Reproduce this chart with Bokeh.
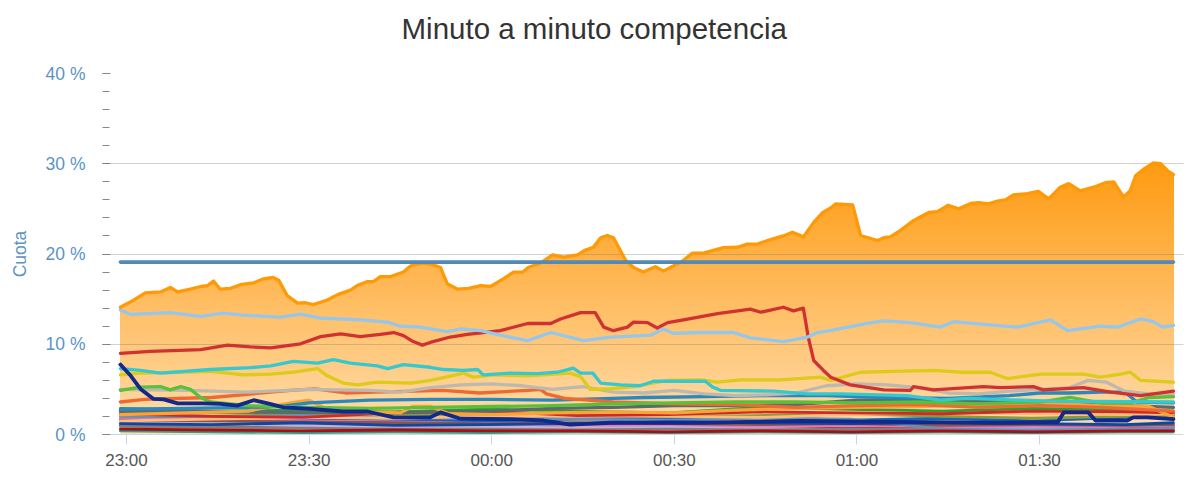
import numpy as np
from bokeh.plotting import figure
from bokeh.models import Range1d, FixedTicker, SingleIntervalTicker, Title
from bokeh.embed import file_html
from bokeh.resources import INLINE

# ---------------- data (minutes after 23:00, share in %) ----------------
title_text = "Minuto a minuto competencia"
tick_minutes = [0, 30, 60, 90, 120, 150]
tick_labels = ["23:00", "23:30", "00:00", "00:30", "01:00", "01:30"]
y_ticks = [0, 10, 20, 30, 40]
y_tick_labels = ["0 %", "10 %", "20 %", "30 %", "40 %"]

objetivo_t = [-1, 172]
objetivo_v = [19.1, 19.1]

orange_t = [-1, 0.7, 3.1, 5.6, 7.2, 8.4, 10.5, 12.2, 13.3, 14.3, 15.4, 17.1, 18.7, 20.9, 22.5, 24.1, 25.0, 26.4,
            28.1, 29.4, 30.7, 33.0, 34.7, 36.8, 37.9, 39.6, 40.6, 41.7, 43.4, 45.5, 46.7, 48.6, 50.4, 51.6, 52.7,
            54.4, 56.2, 58.2, 59.8, 61.9, 63.6, 65.1, 66.0, 68.0, 70.0, 71.8, 74.1, 75.4, 76.7, 77.9, 79.0, 80.0,
            82.0, 83.3, 84.9, 86.9, 88.2, 89.9, 91.5, 93.0, 94.8, 96.4, 98.1, 100.4, 102.0, 103.7, 105.8, 107.9,
            109.4, 111.2, 112.9, 114.4, 115.7, 116.5, 119.3, 120.6, 123.4, 124.4, 125.5, 127.1, 129.3, 130.4, 131.8,
            133.2, 135.0, 136.7, 138.7, 140.0, 141.6, 143.1, 144.4, 145.7, 148.0, 149.8, 151.5, 153.4, 154.8, 156.7,
            158.9, 160.8, 162.2, 163.8, 164.9, 165.8, 167.1, 168.7, 169.9, 171.0, 172.0]
orange_v = [14.1, 14.7, 15.7, 15.8, 16.3, 15.8, 16.1, 16.4, 16.5, 17.0, 16.1, 16.2, 16.6, 16.8, 17.25, 17.4, 17.1, 15.4,
            14.55, 14.6, 14.4, 14.9, 15.5, 16.0, 16.5, 16.95, 16.95, 17.5, 17.5, 18.0, 18.7, 19.0, 18.8, 18.5, 16.7,
            16.1, 16.2, 16.5, 16.4, 17.25, 18.0, 18.0, 18.5, 19.0, 19.9, 19.65, 19.9, 20.45, 20.75, 21.8, 22.05, 21.8,
            19.3, 18.5, 18.0, 18.6, 18.1, 18.7, 19.3, 20.1, 20.1, 20.4, 20.7, 20.75, 21.1, 21.1, 21.6, 22.0,
            22.4, 21.9, 23.5, 24.6, 25.1, 25.55, 25.45, 22.05, 21.5, 21.8, 21.9, 22.6, 23.7, 24.1, 24.6,
            24.7, 25.4, 25.0, 25.6, 25.7, 25.55, 25.85, 26.0, 26.55, 26.7, 26.95, 26.1, 27.4, 27.8, 27.0,
            27.4, 27.9, 28.0, 26.3, 27.0, 28.7, 29.4, 30.1, 30.0, 29.25, 28.8]

lblue_t = [-1, 0.7, 7.2, 12.2, 15.9, 18.7, 25.3, 28.6, 31.9, 38.4, 42.9, 45.0, 48.3, 52.7, 54.9, 58.2, 61.4, 65.9, 69.7,
           75.1, 79.5, 86.1, 88.2, 89.9, 94.3, 99.7, 102.5, 107.9, 111.9, 113.5, 116.2, 121.7, 124.4, 128.8, 133.7,
           135.9, 140.8, 146.4, 151.8, 154.6, 160.0, 162.8, 166.6, 168.7, 170.2, 172]
lblue_v = [13.8, 13.3, 13.5, 13.1, 13.45, 13.25, 13.0, 13.35, 12.9, 12.7, 12.45, 12.0, 11.9, 11.4, 11.7, 11.5, 11.0, 10.4,
           11.3, 10.4, 10.8, 11.0, 11.7, 11.2, 11.3, 11.3, 10.7, 10.3, 10.8, 11.3, 11.6, 12.3, 12.6, 12.4, 11.9,
           12.5, 12.2, 11.9, 12.7, 11.5, 12.0, 11.9, 12.8, 12.5, 11.9, 12.1]

red_t = [-1, 3.9, 12.2, 16.6, 20.4, 23.7, 28.6, 31.9, 35.2, 38.4, 41.7, 43.9, 45.5, 47.1, 48.6, 49.9, 53.2, 56.0, 58.6,
         61.4, 65.9, 69.7, 71.3, 74.6, 77.0, 78.4, 80.0, 82.3, 83.3, 85.6, 87.2, 88.9, 91.5, 97.1, 102.5, 104.2, 107.9,
         109.6, 111.2, 112.0, 112.9, 114.5, 115.7, 118.9, 124.4, 128.8, 129.3, 132.6, 140.8, 143.6, 149.0, 150.6,
         157.2, 161.7, 166.6, 172]
red_v = [9.0, 9.2, 9.4, 9.9, 9.7, 9.6, 10.05, 10.85, 11.15, 10.85, 11.1, 11.3, 10.95, 10.3, 9.9, 10.2, 10.8, 11.1, 11.3,
         11.5, 12.3, 12.3, 12.8, 13.5, 13.5, 11.9, 11.5, 11.9, 12.45, 12.4, 11.8, 12.4, 12.7, 13.4, 13.9, 13.55, 14.1,
         13.7, 14.0, 10.8, 8.2, 7.1, 6.35, 5.5, 4.95, 4.9, 5.3, 4.95, 5.3, 5.2, 5.3, 4.95,
         5.2, 4.7, 4.3, 4.8]

cyan_t = [-1, 2.3, 5.6, 13.8, 20.4, 23.7, 27.4, 31.4, 34.0, 36.8, 41.2, 42.9, 45.5, 49.9, 52.1, 55.4, 57.7, 58.6, 63.1,
          67.5, 70.8, 73.4, 74.6, 76.6, 77.9, 81.2, 84.4, 86.6, 89.9, 95.1, 96.3, 97.6, 106.3, 111.9, 117.3, 128.3,
          133.7, 138.2, 151.8, 172]
cyan_v = [7.3, 7.1, 6.8, 7.2, 7.4, 7.6, 8.1, 7.9, 8.3, 7.9, 7.6, 7.3, 7.75, 7.45, 7.2, 7.1, 7.2, 6.6, 6.8,
          6.75, 6.9, 7.35, 6.8, 6.8, 5.7, 5.5, 5.4, 5.9, 5.9, 5.9, 5.25, 4.9, 4.8, 4.5, 4.5, 4.3,
          3.8, 4.0, 3.7, 3.6]

yellow_t = [-1, 2.3, 8.4, 13.8, 16.6, 19.2, 23.7, 27.4, 31.4, 33.0, 35.6, 37.9, 41.2, 46.7, 49.9, 52.1, 55.4, 57.0,
            60.3, 65.9, 72.9, 74.6, 76.2, 79.5, 83.3, 88.9, 94.3, 97.1, 100.9, 107.4, 114.0, 115.7, 120.6, 126.0,
            132.6, 137.0, 141.9, 144.7, 150.2, 157.2, 160.0, 163.3, 164.9, 166.6, 172]
yellow_v = [6.6, 6.8, 6.9, 7.0, 6.8, 6.6, 6.7, 6.9, 7.3, 6.5, 5.7, 5.5, 5.8, 5.7, 6.0, 6.3, 6.8, 6.35,
            6.6, 6.5, 6.8, 6.4, 5.0, 5.05, 5.3, 6.0, 6.05, 5.8, 6.05, 6.05, 6.35, 6.0, 6.9, 7.0,
            7.1, 6.9, 6.9, 6.2, 6.7, 6.7, 6.35, 6.7, 6.9, 6.0, 5.8]

navy_t = [-1, 0.7, 2.3, 4.4, 6.1, 8.4, 12.6, 15.4, 18.2, 20.9, 23.2, 25.8, 30.2, 35.6, 39.6, 41.2, 43.9, 49.9, 51.6,
          54.9, 63.1, 68.5, 72.9, 79.5, 94.3, 110.7, 127.2, 143.6, 153.0, 154.0, 158.0, 159.2, 164.4, 165.4, 167.7, 172]
navy_v = [7.75, 6.5, 5.05, 3.95, 3.9, 3.45, 3.45, 3.4, 3.2, 3.8, 3.45, 3.0, 2.85, 2.55, 2.55, 2.3, 1.9, 1.9, 2.45,
          1.75, 1.7, 1.55, 1.1, 1.3, 1.3, 1.5, 1.4, 1.3, 1.4, 2.45, 2.45, 1.55, 1.55, 1.9, 1.9, 1.7]

green_t = [-1, 2.3, 5.6, 7.2, 8.9, 10.5, 12.2, 13.8, 20, 30, 40, 50, 60, 70, 80, 90, 100, 110, 120, 130, 140, 150,
           155, 160, 165, 168, 172]
green_v = [4.9, 5.25, 5.3, 4.95, 5.3, 5.0, 4.1, 3.6, 3.2, 3.0, 2.9, 3.0, 3.1, 3.2, 3.4, 3.5, 3.6, 3.6, 3.5, 3.6, 3.4,
           3.6, 4.1, 3.5, 3.5, 4.1, 4.2]

gray_t = [-1, 10, 20, 30, 40, 45, 50, 55, 60, 65, 70, 75, 80, 85, 90, 95, 100, 105, 110, 115, 120, 125, 130, 135,
          140, 145, 150, 155, 158, 161, 164, 168, 172]
gray_v = [5.0, 4.9, 4.7, 5.0, 4.9, 4.7, 5.2, 5.5, 5.6, 5.4, 5.0, 5.3, 4.7, 4.6, 4.9, 4.5, 4.3, 4.4, 4.6, 5.4, 5.6,
          5.5, 5.2, 4.6, 4.5, 4.8, 5.0, 5.2, 6.0, 5.8, 4.8, 4.5, 4.5]

tomato_t = [-1, 3, 14, 19, 27, 31, 36, 41, 52, 58, 66, 68, 69, 72, 80, 90, 100, 110, 120, 130, 140, 150, 160, 172]
tomato_v = [3.6, 3.9, 4.1, 4.4, 4.9, 5.05, 4.6, 4.7, 4.9, 4.6, 4.9, 5.0, 4.5, 4.0, 3.6, 3.4, 3.3, 3.0, 3.2, 3.3,
            3.0, 3.2, 3.0, 2.6]

sblue_t = [-1, 10, 20, 25, 30, 40, 50, 60, 70, 80, 85, 95, 105, 115, 125, 135, 145, 150, 155, 160, 164, 166, 172]
sblue_v = [2.8, 2.9, 3.0, 3.1, 3.5, 3.8, 3.9, 3.9, 3.8, 4.0, 4.1, 4.2, 4.3, 4.3, 4.1, 4.0, 4.3, 4.6, 4.6, 4.7, 4.7,
           3.6, 3.5]

slate_t = [-1, 20, 40, 60, 70, 80, 90, 100, 110, 120, 130, 140, 150, 160, 172]
slate_v = [2.6, 2.5, 2.4, 2.6, 2.9, 3.0, 3.2, 3.2, 3.3, 3.8, 3.9, 3.7, 3.5, 3.3, 3.0]

amber_t = [-1, 10, 20, 27, 30, 33, 40, 45, 47, 50, 53, 60, 70, 80, 90, 100, 110, 120, 130, 140, 150, 160, 168, 172]
amber_v = [2.2, 2.4, 2.6, 3.5, 3.8, 2.8, 2.5, 2.4, 3.1, 3.1, 2.3, 2.2, 2.4, 2.5, 2.4, 2.7, 2.9, 3.0, 3.1, 3.3, 3.5,
           3.2, 3.1, 1.9]

low_t = [-1, 14, 29, 44, 59, 74, 89, 104, 119, 134, 149, 164, 172]
low1_v = [1.0, 0.9, 1.1, 0.8, 0.9, 0.7, 0.8, 0.6, 0.7, 0.8, 0.9, 0.8, 0.9]
low2_v = [2.2, 2.0, 1.8, 1.6, 1.5, 1.7, 1.8, 1.9, 1.6, 1.8, 1.5, 1.9, 2.2]
low3_v = [1.8, 1.6, 1.5, 1.4, 1.2, 1.1, 1.0, 0.9, 1.0, 0.9, 0.8, 0.9, 1.0]
low4_v = [1.3, 1.2, 1.0, 0.8, 0.9, 0.7, 0.8, 0.6, 0.5, 0.5, 0.6, 0.5, 0.6]
low5_v = [0.4, 0.3, 0.2, 0.3, 0.2, 0.3, 0.2, 0.3, 0.2, 0.3, 0.2, 0.3, 0.3]
low6_v = [2.5, 2.4, 2.2, 2.3, 2.1, 2.2, 2.0, 2.1, 2.3, 2.0, 1.8, 2.0, 2.1]
low7_v = [1.6, 1.5, 1.4, 1.3, 1.2, 1.3, 1.2, 1.1, 1.2, 1.0, 1.1, 1.0, 1.1]
low8_v = [0.9, 0.8, 0.7, 0.6, 0.6, 0.5, 0.6, 0.5, 0.6, 0.5, 0.4, 0.5, 0.5]
low9_v = [2.0, 1.9, 2.1, 1.8, 1.9, 1.7, 1.6, 1.8, 1.7, 0.6, 0.5, 0.6, 0.7]
low10_v = [0.6, 0.5, 0.4, 0.5, 0.4, 0.4, 0.3, 0.4, 0.3, 0.4, 0.3, 0.4, 0.4]
low11_v = [1.5, 1.7, 1.9, 1.8, 2.0, 2.1, 2.0, 1.9, 2.2, 2.4, 2.3, 2.2, 2.3]
low12_v = [2.9, 2.6, 2.7, 2.5, 2.8, 2.6, 2.4, 3.0, 2.8, 2.6, 2.9, 2.7, 2.6]
low13_v = [2.3, 2.0, 1.9, 2.4, 2.6, 2.1, 2.2, 2.5, 2.4, 2.3, 2.6, 2.5, 2.4]
low14_v = [1.2, 1.1, 1.3, 1.0, 1.1, 1.2, 1.4, 1.3, 1.2, 1.3, 1.2, 1.1, 1.3]

# ---------------- figure ----------------
FONT = "Liberation Sans"
BLUE_TXT = "#5a94c4"

p = figure(width=1200, height=478, x_range=Range1d(-3.94, 173.65), y_range=Range1d(0, 40),
           output_backend="svg", toolbar_location=None, title=None,
           min_border_left=102, min_border_right=17, min_border_top=73, min_border_bottom=44)
p.outline_line_color = None
p.background_fill_color = "white"
p.border_fill_color = "white"

# spacer (closest to the frame) then the real title above it
p.add_layout(Title(text=" ", text_font_size="1px", standoff=26), "above")
p.add_layout(Title(text=title_text, text_font=FONT, text_font_size="29.5px", text_font_style="normal",
                   text_color="#333333", align="left", offset=299, standoff=0), "above")

p.xgrid.visible = False
p.ygrid.ticker = FixedTicker(ticks=y_ticks)
p.ygrid.grid_line_color = "#7a7a7a"
p.ygrid.grid_line_alpha = 0.35
p.ygrid.level = "guide"

xa = p.xaxis[0]
xa.ticker = FixedTicker(ticks=tick_minutes, minor_ticks=[])
xa.major_label_overrides = dict(zip(tick_minutes, tick_labels))
xa.axis_line_color = "#ccd6eb"
xa.major_tick_line_color = "#ccd6eb"
xa.major_tick_out = 10
xa.major_tick_in = 0
xa.minor_tick_line_color = None
xa.major_label_text_font = FONT
xa.major_label_text_font_size = "17px"
xa.major_label_text_color = "#555555"
xa.major_label_standoff = 6

ya = p.yaxis[0]
ya.ticker = SingleIntervalTicker(interval=10, num_minor_ticks=5)
ya.major_label_overrides = dict(zip(y_ticks, y_tick_labels))
ya.axis_line_color = None
ya.major_tick_in = 8
ya.major_tick_out = 0
ya.minor_tick_in = 7
ya.minor_tick_out = 0
ya.major_tick_line_color = "#888888"
ya.minor_tick_line_color = "#888888"
ya.major_label_text_font = FONT
ya.major_label_text_font_size = "17.5px"
ya.major_label_text_color = BLUE_TXT
ya.major_label_standoff = 17
ya.axis_label = "Cuota"
ya.axis_label_text_font = FONT
ya.axis_label_text_font_size = "17.5px"
ya.axis_label_text_font_style = "normal"
ya.axis_label_text_color = BLUE_TXT
ya.axis_label_standoff = 13

# gradient-filled area (layers stacked from bottom colour to top colour)
ov = np.array(orange_v)
top_val = ov.max()
c_bottom = np.array([255, 221, 173])
c_top = np.array([255, 155, 18])
n_layers = 64
for k in range(n_layers):
    yk = top_val * k / n_layers
    f = k / (n_layers - 1)
    c = (c_bottom + (c_top - c_bottom) * f).round().astype(int)
    col = "#%02x%02x%02x" % tuple(c)
    p.varea(x=orange_t, y1=np.minimum(ov, yk), y2=ov, fill_color=col, fill_alpha=1.0)

def add_line(t, v, color, width=3.3):
    r = p.line(t, v, line_color=color, line_width=width, line_join="round", line_cap="round")
    r.level = "annotation"
    return r

low_colors = ["#c0392b", "#1565c0", "#e377c2", "#c5b0d5", "#2ca089", "#8c9a3a", "#8c564b",
              "#7f7f7f", "#6b8fb3", "#a50f15", "#ffbb78", "#2ca02c", "#d62728", "#0d47a1"]
low_vals = [low1_v, low2_v, low3_v, low4_v, low5_v, low6_v, low7_v, low8_v, low9_v, low10_v,
            low11_v, low12_v, low13_v, low14_v]
for vals, col in zip(low_vals, low_colors):
    add_line(low_t, vals, col, 2.8)

add_line(slate_t, slate_v, "#5b6b6b")
add_line(amber_t, amber_v, "#f6a53a")
add_line(sblue_t, sblue_v, "#2a88c0")
add_line(tomato_t, tomato_v, "#ee6a35")
add_line(gray_t, gray_v, "#bdb9ae")
add_line(green_t, green_v, "#5cbf3c")
add_line(yellow_t, yellow_v, "#dccb19")
add_line(cyan_t, cyan_v, "#36c8cf")
add_line(red_t, red_v, "#d03232")
add_line(lblue_t, lblue_v, "#95c6ec")
add_line(navy_t, navy_v, "#10298a", 3.8)
add_line(orange_t, orange_v, "#ff9a06", 3.3)
add_line(objetivo_t, objetivo_v, "#5289b5", 3.6)

open("out.html", "w").write(file_html(p, INLINE))
